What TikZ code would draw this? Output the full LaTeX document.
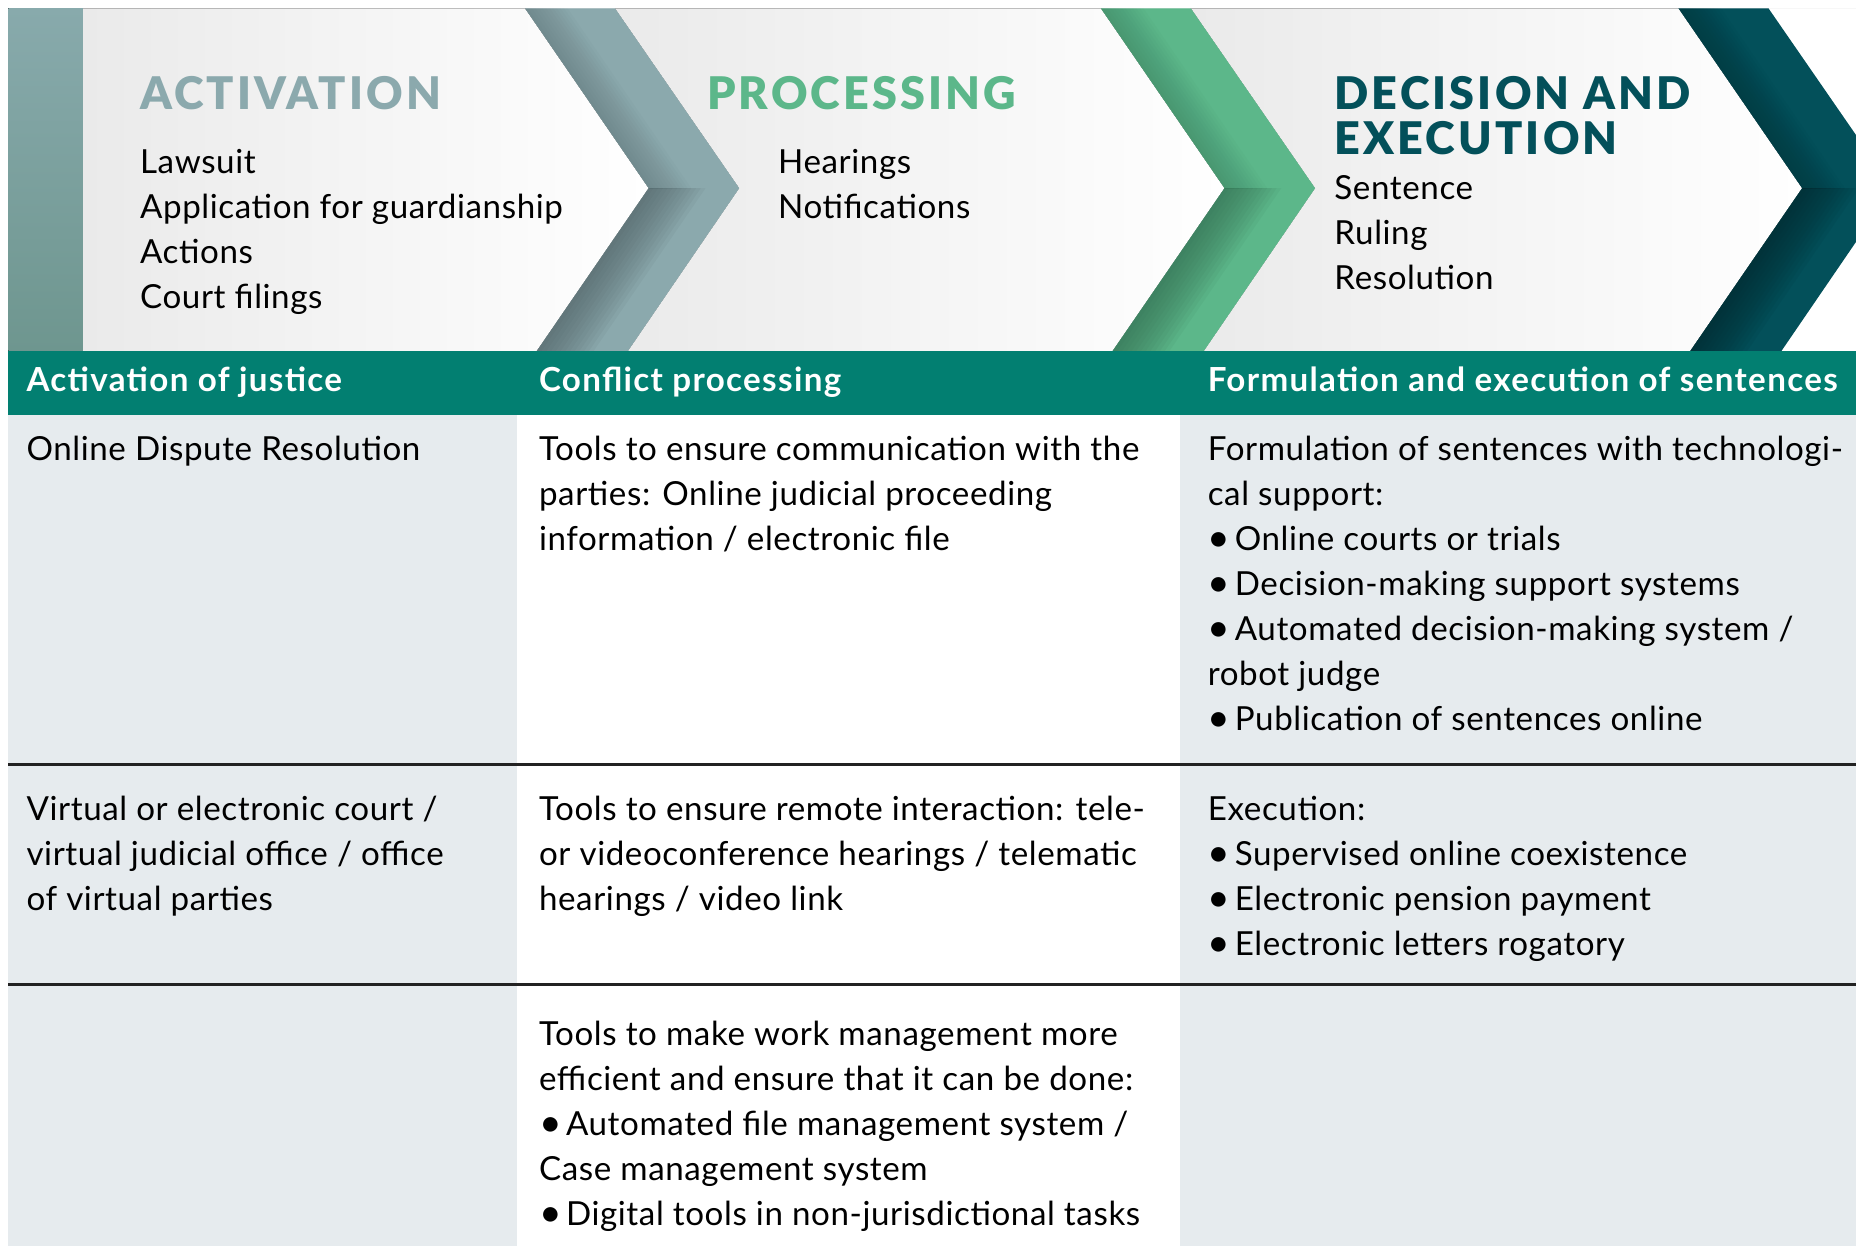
\documentclass[tikz,border=0pt]{standalone}
\usepackage{fontspec}
\setmainfont{Lato}[LetterSpace=1.8]
\newfontfamily\headfont{Lato}[LetterSpace=4]
\newfontfamily\titlefont{Lato Black}[LetterSpace=7]
\usetikzlibrary{positioning}

\definecolor{actcol}{HTML}{8BA9AD}
\definecolor{actdark}{HTML}{4F6064}
\definecolor{procol}{HTML}{5CB78A}
\definecolor{prodark}{HTML}{336B50}
\definecolor{deccol}{HTML}{03505A}
\definecolor{decdark}{HTML}{01282D}
\definecolor{stripetop}{HTML}{88AAAC}
\definecolor{stripebot}{HTML}{6E968F}
\definecolor{bandcol}{HTML}{027F71}
\definecolor{cellgray}{HTML}{E6EBEE}
\definecolor{panelgray}{HTML}{EAEAEA}
\definecolor{rulecol}{HTML}{222222}

\newcommand{\bul}{\raisebox{-0.6pt}{\fontsize{16.5}{19}\selectfont\textbullet}\kern-2pt}

\tikzset{
  body/.style={font=\fontsize{14}{19}\selectfont, align=left, inner sep=0pt, anchor=north west},
  stagetitle/.style={font=\fontsize{19}{19}\selectfont\titlefont, align=left, inner sep=0pt, anchor=north west},
  colhead/.style={font=\fontsize{14}{19}\selectfont\headfont\bfseries, text=white, inner sep=0pt, anchor=base west},
  rowrule/.style={rulecol, line width=1.35pt}
}

\begin{document}
\begin{tikzpicture}[x=0.5pt, y=-0.5pt]

        \useasboundingbox (0,0) rectangle (1568,1052.6);

% Banner panels
        \fill[panelgray] (7,7) rectangle (1568,296.5);
        \fill[left color=panelgray, right color=white]
          (70,7) -- (443.5,7) -- (548,159) -- (453.5,296.5) -- (70,296.5) -- cycle;
        \fill[left color=panelgray, right color=white]
          (519.5,7) -- (930,7) -- (1034.5,159) -- (940,296.5) -- (530.5,296.5) -- (624.5,159) -- cycle;
        \fill[left color=panelgray, right color=white]
          (1006,7) -- (1418,7) -- (1522.5,159) -- (1428,296.5) -- (1017,296.5) -- (1111,159) -- cycle;
        \fill[white] (1494,7) -- (1568,7) -- (1568,114) -- cycle;
        \fill[white] (1505,296.5) -- (1568,296.5) -- (1568,204) -- cycle;
        \fill[top color=stripetop, bottom color=stripebot] (7,7) rectangle (70,296.5);

% Chevrons
        \foreach \x/\base/\dark in {443.5/actcol/actdark, 930/procol/prodark, 1418/deccol/decdark} {
          \fill[\base] (\x,7) -- ++(76,0) -- ++(105,152) -- ++(-94,137.5) -- ++(-77,0) -- ++(94.5,-137.5) -- cycle;
          \foreach \k in {1,...,12} {
            \fill[\dark, opacity=0.08]
              (\x+104.5,159) -- (\x+10,296.5) -- (\x+10+4*\k,296.5) -- (\x+104.5+4*\k,159) -- cycle;
            \fill[\dark, opacity=0.035]
              (\x,7) -- (\x+104.5,159) -- (\x+104.5+3*\k,159) -- (\x+3*\k,7) -- cycle;
          }
        }

% Stage titles and items
        \node[stagetitle, text=actcol] (acttitle) at (118,64) {ACTIVATION};
        \node[stagetitle, text=procol] (protitle) at (597,64) {PROCESSING};
        \node[stagetitle, text=deccol] (dectitle) at (1127,64) {DECISION AND\\EXECUTION};

        \node[body] (actitems) at (118,126) {Lawsuit\\Application for guardianship\\Actions\\Court filings};
        \node[body] (proitems) at (657,126) {Hearings\\Notifications};
        \node[body] (decitems) at (1127,148) {Sentence\\Ruling\\Resolution};

% Column headers
        \fill[bandcol] (7,296.5) rectangle (1568,350.5);
        \node[colhead] (acthead) at (22,331) {Activation of justice};
        \node[colhead] (prohead) at (455,331) {Conflict processing};
        \node[colhead] (dechead) at (1020,331) {Formulation and execution of sentences};

% Table body
        \fill[cellgray] (7,350.5) rectangle (437,1052.6);
        \fill[cellgray] (997,350.5) rectangle (1568,1052.6);
        \draw[rowrule] (7,646) -- (1568,646);
        \draw[rowrule] (7,831.5) -- (1568,831.5);

        \node[body] (odr) at (22,368) {Online Dispute Resolution};
        \node[body] (commtools) at (455,368) {Tools to ensure communication with the\\parties: Online judicial proceeding\\information / electronic file};
        \node[body] (sentform) at (1020,368) {Formulation of sentences with technologi-\\cal support:\\\bul{} Online courts or trials\\\bul{} Decision-making support systems\\\bul{} Automated decision-making system /\\robot judge\\\bul{} Publication of sentences online};

        \node[body] (vcourt) at (22,672) {Virtual or electronic court /\\virtual judicial office / office\\of virtual parties};
        \node[body] (remote) at (455,672) {Tools to ensure remote interaction: tele-\\or videoconference hearings / telematic\\hearings / video link};
        \node[body] (exec) at (1020,672) {Execution:\\\bul{} Supervised online coexistence\\\bul{} Electronic pension payment\\\bul{} Electronic letters rogatory};

        \node[body] (workmgmt) at (455,862) {Tools to make work management more\\efficient and ensure that it can be done:\\\bul{} Automated file management system /\\Case management system\\\bul{} Digital tools in non-jurisdictional tasks};

\end{tikzpicture}
\end{document}
